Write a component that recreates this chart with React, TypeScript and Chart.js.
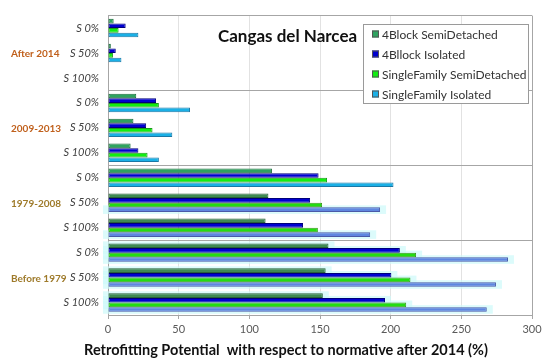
import React, { useEffect, useRef } from "react";
import { Chart, registerables } from "chart.js";

Chart.register(...registerables);

const categories = [
  "S 0%", "S 50%", "S 100%",
  "S 0%", "S 50%", "S 100%",
  "S 0%", "S 50%", "S 100%",
  "S 0%", "S 50%", "S 100%",
];
const groups = ["After 2014", "2009-2013", "1979-2008", "Before 1979"];
const seriesNames = [
  "4Block SemiDetached",
  "4Bllock Isolated",
  "SingleFamily SemiDetached",
  "SingleFamily Isolated",
];
const block4Semi = [4, 2, 0, 20, 18, 16, 116, 113.5, 111.5, 156, 154, 152];
const block4Iso = [12.5, 5.5, 0, 34, 27, 21.5, 149, 143, 138, 206.5, 200.5, 196];
const singleSemi = [7.5, 3.5, 0, 36, 31.5, 28, 155, 151.5, 148.5, 218, 214, 211];
const singleIso = [21.5, 9.5, 0, 58, 45.5, 36, 202, 192.5, 185.5, 283, 274.5, 268];
const xTicks = [0, 50, 100, 150, 200, 250, 300];

const FONT = "Lato, 'Open Sans', sans-serif";
const glowIdx = new Set([7, 8, 9, 10, 11]);

const perBar = (normal: string, special: string, set: Set<number>) =>
  categories.map((_, i) => (set.has(i) ? special : normal));

const legendColors = ["#2ea35f", "#0000d0", "#11ee11", "#1ab0e6"];

const decorPlugin = {
  id: "decor",
  beforeDatasetsDraw(chart: any) {
    const ctx = chart.ctx;
    const xs = chart.scales.x;
    ctx.save();
    ctx.fillStyle = "rgba(205,250,250,0.7)";
    chart.data.datasets.forEach((_: any, di: number) => {
      const meta = chart.getDatasetMeta(di);
      meta.data.forEach((el: any, i: number) => {
        if (!glowIdx.has(i)) return;
        if (i < 9 && di !== 3) return;
        const base = xs.getPixelForValue(0);
        const h = el.height;
        ctx.fillRect(base - 5, el.y - h / 2 - 2, el.x - base + 11, h + 4);
      });
    });
    ctx.restore();
  },
  afterDraw(chart: any) {
    const ctx = chart.ctx;
    const ys = chart.scales.y;
    ctx.save();
    ctx.font = `bold 10px ${FONT}`;
    ctx.textAlign = "left";
    ctx.textBaseline = "middle";
    const gColors = ["#c0601c", "#c0601c", "#9e7a2a", "#9e7a2a"];
    groups.forEach((g, gi) => {
      const y = ys.getPixelForValue(gi * 3 + 1);
      ctx.fillStyle = gColors[gi];
      ctx.fillText(g, 11, y + 1);
    });
    ctx.fillStyle = "#111";
    ctx.font = `bold 17px ${FONT}`;
    ctx.fillText("Cangas del Narcea", 218, 37);
    const lx = 363, ly = 24, lw = 165, lh = 79;
    ctx.fillStyle = "#fff";
    ctx.fillRect(lx, ly, lw, lh);
    ctx.strokeStyle = "#9a9a9a";
    ctx.lineWidth = 1;
    ctx.strokeRect(lx + 0.5, ly + 0.5, lw, lh);
    ctx.font = `12px ${FONT}`;
    seriesNames.forEach((n, i) => {
      const y = ly + 10 + i * 20;
      ctx.fillStyle = legendColors[i];
      ctx.fillRect(lx + 9, y - 3.5, 7, 7);
      ctx.strokeStyle = "#555";
      ctx.strokeRect(lx + 9.5, y - 3, 6, 6);
      ctx.fillStyle = "#333";
      ctx.fillText(n, lx + 19, y + 1);
    });
    ctx.fillStyle = "#111";
    ctx.font = `bold 14.5px ${FONT}`;
    ctx.textAlign = "center";
    ctx.fillText("Retrofitting Potential  with respect to normative after 2014 (%)", 286, 350);
    ctx.restore();
  },
};

export default function App() {
  const ref = useRef<HTMLCanvasElement>(null);
  useEffect(() => {
    document.body.style.margin = "0";
    const mk = (label: string, data: number[], bg: string[], border: string[]) => ({
      label,
      data,
      backgroundColor: bg,
      borderColor: border,
      borderWidth: 1,
      borderSkipped: false,
      barPercentage: 1,
      categoryPercentage: 0.74,
    });
    const late = new Set([7, 8, 9, 10, 11]);
    const chart = new Chart(ref.current!, {
      type: "bar",
      data: {
        labels: categories,
        datasets: [
          mk(seriesNames[0], block4Semi, perBar("#2ea35f", "#3f8a52", late), perBar("#1b6e3a", "#2a6238", late)),
          mk(seriesNames[1], block4Iso, perBar("#0000d0", "#0000d0", late), perBar("#00007a", "#00007a", late)),
          mk(seriesNames[2], singleSemi, perBar("#11ee11", "#22dd11", late), perBar("#1a9a1a", "#3a9a1a", late)),
          mk(seriesNames[3], singleIso, perBar("#1ab0e6", "#5f86e0", late), perBar("#1a78a6", "#4a5aa8", late)),
        ],
      },
      options: {
        indexAxis: "y",
        animation: false,
        responsive: false,
        maintainAspectRatio: false,
        layout: { padding: { top: 11, right: 18, left: 0, bottom: 0 } },
        plugins: { legend: { display: false }, tooltip: { enabled: false }, title: { display: false } },
        scales: {
          x: {
            min: 0,
            max: 300,
            afterBuildTicks: (s: any) => {
              s.ticks = xTicks.map((v) => ({ value: v }));
            },
            afterFit: (s: any) => {
              s.height = 48;
            },
            border: { display: true, color: "#a6a6a6" },
            grid: {
              color: (c: any) => (c.tick && c.tick.value === 300 ? "#a6a6a6" : "#e2e2e2"),
              tickColor: "#a6a6a6",
              tickLength: 4,
            },
            ticks: { color: "#595959", font: { size: 11, family: FONT }, padding: 4 },
          },
          y: {
            afterFit: (s: any) => {
              s.width = 108;
            },
            border: { display: true, color: "#a6a6a6" },
            grid: {
              offset: true,
              drawTicks: false,
              color: (c: any) => (c.index % 3 === 0 ? "#a6a6a6" : "rgba(0,0,0,0)"),
            },
            ticks: {
              color: "#404040",
              padding: 9,
              font: { size: 11, style: "italic", family: FONT },
            },
          },
        },
      },
      plugins: [decorPlugin],
    } as any);
    return () => chart.destroy();
  }, []);
  return (
    <div style={{ position: "fixed", left: 0, top: 0, width: 550, height: 363, background: "#fff" }}>
      <canvas ref={ref} width={550} height={363} style={{ width: 550, height: 363 }} />
    </div>
  );
}
